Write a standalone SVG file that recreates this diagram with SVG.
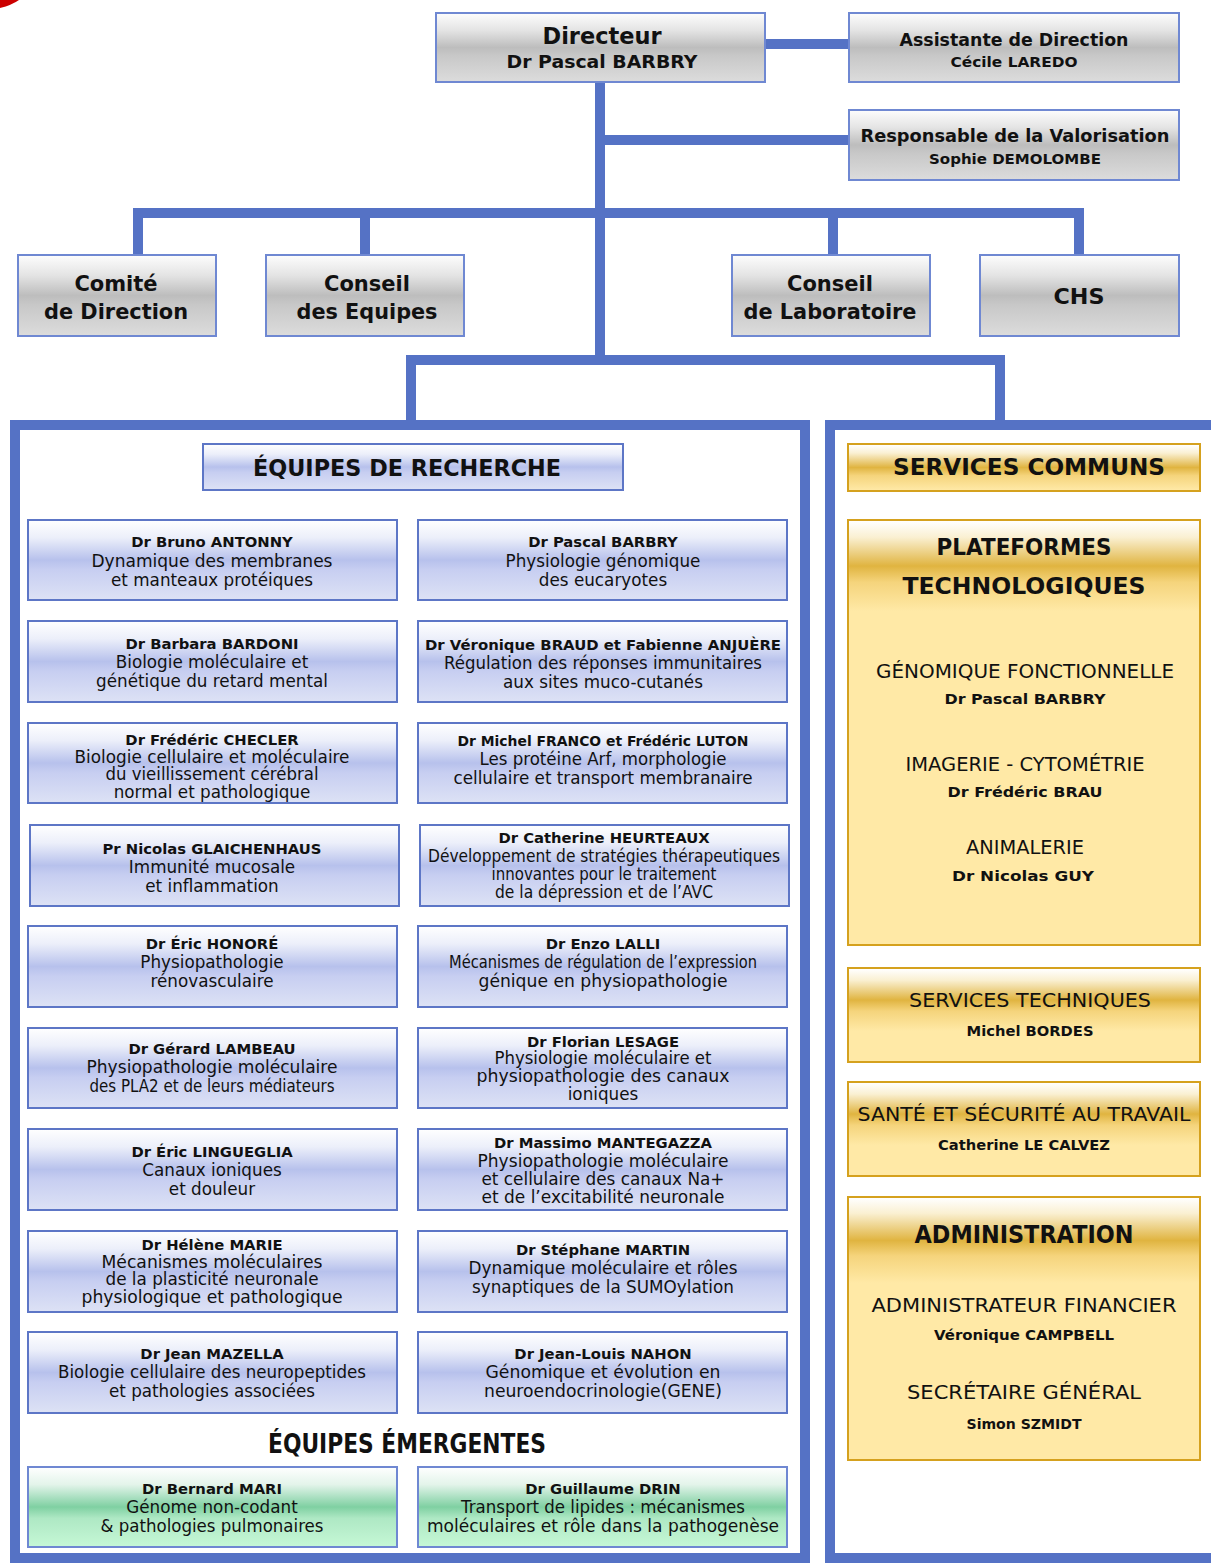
<svg xmlns="http://www.w3.org/2000/svg" width="1211" height="1564" viewBox="0 0 1211 1564">
<defs>
<linearGradient id="gGrey" x1="0" y1="0" x2="0" y2="1">
<stop offset="0" stop-color="#fdfdfd"/><stop offset="0.25" stop-color="#e4e4e4"/><stop offset="0.5" stop-color="#bdbdbd"/><stop offset="0.62" stop-color="#c8c8c8"/><stop offset="1" stop-color="#dcdcdc"/>
</linearGradient>
<linearGradient id="gBlue" x1="0" y1="0" x2="0" y2="1">
<stop offset="0" stop-color="#ffffff"/><stop offset="0.22" stop-color="#eceffa"/><stop offset="0.5" stop-color="#b7c1ec"/><stop offset="0.62" stop-color="#c7cef1"/><stop offset="1" stop-color="#dde2f5"/>
</linearGradient>
<linearGradient id="gGreen" x1="0" y1="0" x2="0" y2="1">
<stop offset="0" stop-color="#ffffff"/><stop offset="0.22" stop-color="#e3f4ea"/><stop offset="0.5" stop-color="#7fd0a2"/><stop offset="0.64" stop-color="#aee8c4"/><stop offset="1" stop-color="#c6f8d6"/>
</linearGradient>
<linearGradient id="gGold" x1="0" y1="0" x2="0" y2="1">
<stop offset="0" stop-color="#ffffff"/><stop offset="0.18" stop-color="#faf0d2"/><stop offset="0.5" stop-color="#e0b440"/><stop offset="0.68" stop-color="#f5d47c"/><stop offset="1" stop-color="#ffe9a6"/>
</linearGradient>
<style>
.con{stroke:#5572c5;stroke-width:10;fill:none;stroke-linejoin:miter}
.frame{stroke:#5572c5;stroke-width:10;fill:#ffffff}
.grey{fill:url(#gGrey);stroke:#6f88d2;stroke-width:2}
.blue{fill:url(#gBlue);stroke:#5d76c6;stroke-width:2}
.green{fill:url(#gGreen);stroke:#6f88d2;stroke-width:2}
.gold{fill:#ffe9a6;stroke:#d5a11e;stroke-width:2}
.goldh{fill:url(#gGold)}
text{font-family:"DejaVu Sans","Liberation Sans",sans-serif;fill:#111;text-anchor:middle}
.b{font-weight:bold}
.nm{font-weight:bold;font-size:14.8px}
.tx{font-size:16.8px}
.yt{font-size:19px}
.yn{font-weight:bold;font-size:14.5px}
</style>
</defs>
<rect width="1211" height="1564" fill="#ffffff"/>
<path d="M0,0 L19,0 Q12,5 0,8 Z" fill="#cc0000"/>

<g id="frames">
<rect class="frame" x="15" y="425" width="790" height="1133"/>
<rect class="frame" x="830" y="425" width="400" height="1133"/>
</g>

<g id="connectors">
<line class="con" x1="765" y1="44" x2="849" y2="44"/>
<line class="con" x1="600" y1="82" x2="600" y2="360"/>
<line class="con" x1="600" y1="140" x2="849" y2="140"/>
<polyline class="con" points="138,255 138,213 1079,213 1079,255"/>
<line class="con" x1="365" y1="213" x2="365" y2="255"/>
<line class="con" x1="833" y1="213" x2="833" y2="255"/>
<polyline class="con" points="411,421 411,360 1000,360 1000,421"/>
</g>

<g id="directeur"><rect class="grey" x="436" y="13" width="329" height="69"/>
<text class="b" x="602" y="44" font-size="23" textLength="119" lengthAdjust="spacingAndGlyphs">Directeur</text>
<text class="b" x="602" y="68" font-size="18" textLength="191" lengthAdjust="spacingAndGlyphs">Dr Pascal BARBRY</text></g>

<g id="assistante"><rect class="grey" x="849" y="13" width="330" height="69"/>
<text class="b" x="1014" y="46" font-size="17.5" textLength="229" lengthAdjust="spacingAndGlyphs">Assistante de Direction</text>
<text class="b" x="1014" y="67" font-size="14.5" textLength="127" lengthAdjust="spacingAndGlyphs">Cécile LAREDO</text></g>

<g id="valorisation"><rect class="grey" x="849" y="110" width="330" height="70"/>
<text class="b" x="1015" y="142" font-size="17.5" textLength="309" lengthAdjust="spacingAndGlyphs">Responsable de la Valorisation</text>
<text class="b" x="1015" y="164" font-size="14.5" textLength="172" lengthAdjust="spacingAndGlyphs">Sophie DEMOLOMBE</text></g>

<g id="comite"><rect class="grey" x="18" y="255" width="198" height="81"/>
<text class="b" x="116" y="291" font-size="21">Comité</text>
<text class="b" x="116" y="319" font-size="21" textLength="144" lengthAdjust="spacingAndGlyphs">de Direction</text></g>

<g id="conseil-equipes"><rect class="grey" x="266" y="255" width="198" height="81"/>
<text class="b" x="367" y="291" font-size="21">Conseil</text>
<text class="b" x="367" y="319" font-size="21" textLength="141" lengthAdjust="spacingAndGlyphs">des Equipes</text></g>

<g id="conseil-labo"><rect class="grey" x="732" y="255" width="198" height="81"/>
<text class="b" x="830" y="291" font-size="21">Conseil</text>
<text class="b" x="830" y="319" font-size="21" textLength="173" lengthAdjust="spacingAndGlyphs">de Laboratoire</text></g>

<g id="chs"><rect class="grey" x="980" y="255" width="199" height="81"/>
<text class="b" x="1079" y="304" font-size="21" textLength="51" lengthAdjust="spacingAndGlyphs">CHS</text></g>

<g id="equipes-recherche"><rect class="blue" x="203" y="444" width="420" height="46"/>
<text class="b" x="407" y="476" font-size="23" textLength="308" lengthAdjust="spacingAndGlyphs">ÉQUIPES DE RECHERCHE</text></g>

<g id="antonny"><rect class="blue" x="28" y="520" width="369" height="80"/>
<text class="nm" x="212" y="547">Dr Bruno ANTONNY</text>
<text class="tx" x="212" y="567" textLength="241" lengthAdjust="spacingAndGlyphs">Dynamique des membranes</text>
<text class="tx" x="212" y="586">et manteaux protéiques</text></g>

<g id="barbry"><rect class="blue" x="418" y="520" width="369" height="80"/>
<text class="nm" x="603" y="547">Dr Pascal BARBRY</text>
<text class="tx" x="603" y="567">Physiologie génomique</text>
<text class="tx" x="603" y="586">des eucaryotes</text></g>

<g id="bardoni"><rect class="blue" x="28" y="621" width="369" height="81"/>
<text class="nm" x="212" y="649">Dr Barbara BARDONI</text>
<text class="tx" x="212" y="668">Biologie moléculaire et</text>
<text class="tx" x="212" y="687">génétique du retard mental</text></g>

<g id="braud"><rect class="blue" x="418" y="621" width="369" height="81"/>
<text class="nm" x="603" y="650" textLength="356" lengthAdjust="spacingAndGlyphs">Dr Véronique BRAUD et Fabienne ANJUÈRE</text>
<text class="tx" x="603" y="669" textLength="318" lengthAdjust="spacingAndGlyphs">Régulation des réponses immunitaires</text>
<text class="tx" x="603" y="688">aux sites muco-cutanés</text></g>

<g id="checler"><rect class="blue" x="28" y="723" width="369" height="80"/>
<text class="nm" x="212" y="745">Dr Frédéric CHECLER</text>
<text class="tx" x="212" y="763" textLength="275" lengthAdjust="spacingAndGlyphs">Biologie cellulaire et moléculaire</text>
<text class="tx" x="212" y="780" textLength="213" lengthAdjust="spacingAndGlyphs">du vieillissement cérébral</text>
<text class="tx" x="212" y="798">normal et pathologique</text></g>

<g id="franco"><rect class="blue" x="418" y="723" width="369" height="80"/>
<text class="nm" x="603" y="746" textLength="291" lengthAdjust="spacingAndGlyphs">Dr Michel FRANCO et Frédéric LUTON</text>
<text class="tx" x="603" y="765" textLength="247" lengthAdjust="spacingAndGlyphs">Les protéine Arf, morphologie</text>
<text class="tx" x="603" y="784" textLength="299" lengthAdjust="spacingAndGlyphs">cellulaire et transport membranaire</text></g>

<g id="glaichenhaus"><rect class="blue" x="30" y="825" width="369" height="81"/>
<text class="nm" x="212" y="854">Pr Nicolas GLAICHENHAUS</text>
<text class="tx" x="212" y="873">Immunité mucosale</text>
<text class="tx" x="212" y="892">et inflammation</text></g>

<g id="heurteaux"><rect class="blue" x="420" y="825" width="369" height="81"/>
<text class="nm" x="604" y="843">Dr Catherine HEURTEAUX</text>
<text class="tx" x="604" y="862" textLength="352" lengthAdjust="spacingAndGlyphs">Développement de stratégies thérapeutiques</text>
<text class="tx" x="604" y="880" textLength="225" lengthAdjust="spacingAndGlyphs">innovantes pour le traitement</text>
<text class="tx" x="604" y="898" textLength="218" lengthAdjust="spacingAndGlyphs">de la dépression et de l’AVC</text></g>

<g id="honore"><rect class="blue" x="28" y="926" width="369" height="81"/>
<text class="nm" x="212" y="949">Dr Éric HONORÉ</text>
<text class="tx" x="212" y="968">Physiopathologie</text>
<text class="tx" x="212" y="987">rénovasculaire</text></g>

<g id="lalli"><rect class="blue" x="418" y="926" width="369" height="81"/>
<text class="nm" x="603" y="949">Dr Enzo LALLI</text>
<text class="tx" x="603" y="968" textLength="308" lengthAdjust="spacingAndGlyphs">Mécanismes de régulation de l’expression</text>
<text class="tx" x="603" y="987" textLength="249" lengthAdjust="spacingAndGlyphs">génique en physiopathologie</text></g>

<g id="lambeau"><rect class="blue" x="28" y="1028" width="369" height="80"/>
<text class="nm" x="212" y="1054">Dr Gérard LAMBEAU</text>
<text class="tx" x="212" y="1073" textLength="251" lengthAdjust="spacingAndGlyphs">Physiopathologie moléculaire</text>
<text class="tx" x="212" y="1092" textLength="245" lengthAdjust="spacingAndGlyphs">des PLA2 et de leurs médiateurs</text></g>

<g id="lesage"><rect class="blue" x="418" y="1028" width="369" height="80"/>
<text class="nm" x="603" y="1047">Dr Florian LESAGE</text>
<text class="tx" x="603" y="1064" textLength="217" lengthAdjust="spacingAndGlyphs">Physiologie moléculaire et</text>
<text class="tx" x="603" y="1082" textLength="253" lengthAdjust="spacingAndGlyphs">physiopathologie des canaux</text>
<text class="tx" x="603" y="1100">ioniques</text></g>

<g id="lingueglia"><rect class="blue" x="28" y="1129" width="369" height="81"/>
<text class="nm" x="212" y="1157">Dr Éric LINGUEGLIA</text>
<text class="tx" x="212" y="1176">Canaux ioniques</text>
<text class="tx" x="212" y="1195">et douleur</text></g>

<g id="mantegazza"><rect class="blue" x="418" y="1129" width="369" height="81"/>
<text class="nm" x="603" y="1148">Dr Massimo MANTEGAZZA</text>
<text class="tx" x="603" y="1167" textLength="251" lengthAdjust="spacingAndGlyphs">Physiopathologie moléculaire</text>
<text class="tx" x="603" y="1185" textLength="243" lengthAdjust="spacingAndGlyphs">et cellulaire des canaux Na+</text>
<text class="tx" x="603" y="1203" textLength="243" lengthAdjust="spacingAndGlyphs">et de l’excitabilité neuronale</text></g>

<g id="marie"><rect class="blue" x="28" y="1231" width="369" height="81"/>
<text class="nm" x="212" y="1250">Dr Hélène MARIE</text>
<text class="tx" x="212" y="1268" textLength="221" lengthAdjust="spacingAndGlyphs">Mécanismes moléculaires</text>
<text class="tx" x="212" y="1285" textLength="213" lengthAdjust="spacingAndGlyphs">de la plasticité neuronale</text>
<text class="tx" x="212" y="1303" textLength="261" lengthAdjust="spacingAndGlyphs">physiologique et pathologique</text></g>

<g id="martin"><rect class="blue" x="418" y="1231" width="369" height="81"/>
<text class="nm" x="603" y="1255">Dr Stéphane MARTIN</text>
<text class="tx" x="603" y="1274" textLength="269" lengthAdjust="spacingAndGlyphs">Dynamique moléculaire et rôles</text>
<text class="tx" x="603" y="1293" textLength="262" lengthAdjust="spacingAndGlyphs">synaptiques de la SUMOylation</text></g>

<g id="mazella"><rect class="blue" x="28" y="1332" width="369" height="81"/>
<text class="nm" x="212" y="1359">Dr Jean MAZELLA</text>
<text class="tx" x="212" y="1378" textLength="308" lengthAdjust="spacingAndGlyphs">Biologie cellulaire des neuropeptides</text>
<text class="tx" x="212" y="1397" textLength="206" lengthAdjust="spacingAndGlyphs">et pathologies associées</text></g>

<g id="nahon"><rect class="blue" x="418" y="1332" width="369" height="81"/>
<text class="nm" x="603" y="1359">Dr Jean-Louis NAHON</text>
<text class="tx" x="603" y="1378" textLength="235" lengthAdjust="spacingAndGlyphs">Génomique et évolution en</text>
<text class="tx" x="603" y="1397" textLength="238" lengthAdjust="spacingAndGlyphs">neuroendocrinologie(GENE)</text></g>

<g id="equipes-emergentes">
<text class="b" x="407" y="1453" font-size="26" textLength="278" lengthAdjust="spacingAndGlyphs">ÉQUIPES ÉMERGENTES</text></g>

<g id="mari"><rect class="green" x="28" y="1467" width="369" height="80"/>
<text class="nm" x="212" y="1494">Dr Bernard MARI</text>
<text class="tx" x="212" y="1513">Génome non-codant</text>
<text class="tx" x="212" y="1532" textLength="223" lengthAdjust="spacingAndGlyphs">&amp; pathologies pulmonaires</text></g>

<g id="drin"><rect class="green" x="418" y="1467" width="369" height="80"/>
<text class="nm" x="603" y="1494">Dr Guillaume DRIN</text>
<text class="tx" x="603" y="1513" textLength="284" lengthAdjust="spacingAndGlyphs">Transport de lipides : mécanismes</text>
<text class="tx" x="603" y="1532" textLength="352" lengthAdjust="spacingAndGlyphs">moléculaires et rôle dans la pathogenèse</text></g>

<g id="services-communs"><rect class="gold" x="848" y="444" width="352" height="47"/>
<rect class="goldh" x="849" y="445" width="350" height="45"/>
<text class="b" x="1029" y="475" font-size="23" textLength="272" lengthAdjust="spacingAndGlyphs">SERVICES COMMUNS</text></g>

<g id="plateformes"><rect class="gold" x="848" y="520" width="352" height="425"/>
<rect class="goldh" x="849" y="521" width="350" height="90"/>
<text class="b" x="1024" y="555" font-size="23" textLength="175" lengthAdjust="spacingAndGlyphs">PLATEFORMES</text>
<text class="b" x="1024" y="594" font-size="23" textLength="243" lengthAdjust="spacingAndGlyphs">TECHNOLOGIQUES</text>
<text class="yt" x="1025" y="678" textLength="298" lengthAdjust="spacingAndGlyphs">GÉNOMIQUE FONCTIONNELLE</text>
<text class="yn" x="1025" y="704" textLength="161" lengthAdjust="spacingAndGlyphs">Dr Pascal BARBRY</text>
<text class="yt" x="1025" y="771" textLength="239" lengthAdjust="spacingAndGlyphs">IMAGERIE - CYTOMÉTRIE</text>
<text class="yn" x="1025" y="797" textLength="155" lengthAdjust="spacingAndGlyphs">Dr Frédéric BRAU</text>
<text class="yt" x="1025" y="854" textLength="118" lengthAdjust="spacingAndGlyphs">ANIMALERIE</text>
<text class="yn" x="1023" y="881" textLength="142" lengthAdjust="spacingAndGlyphs">Dr Nicolas GUY</text></g>

<g id="services-techniques"><rect class="gold" x="848" y="968" width="352" height="94"/>
<rect class="goldh" x="849" y="969" width="350" height="62"/>
<text class="yt" x="1030" y="1007" textLength="242" lengthAdjust="spacingAndGlyphs">SERVICES TECHNIQUES</text>
<text class="yn" x="1030" y="1036" textLength="127" lengthAdjust="spacingAndGlyphs">Michel BORDES</text></g>

<g id="sante-securite"><rect class="gold" x="848" y="1082" width="352" height="94"/>
<rect class="goldh" x="849" y="1083" width="350" height="62"/>
<text class="yt" x="1024" y="1121" textLength="333" lengthAdjust="spacingAndGlyphs">SANTÉ ET SÉCURITÉ AU TRAVAIL</text>
<text class="yn" x="1024" y="1150" textLength="172" lengthAdjust="spacingAndGlyphs">Catherine LE CALVEZ</text></g>

<g id="administration"><rect class="gold" x="848" y="1197" width="352" height="263"/>
<rect class="goldh" x="849" y="1198" width="350" height="85"/>
<text class="b" x="1024" y="1243" font-size="24" textLength="219" lengthAdjust="spacingAndGlyphs">ADMINISTRATION</text>
<text class="yt" x="1024" y="1312" textLength="305" lengthAdjust="spacingAndGlyphs">ADMINISTRATEUR FINANCIER</text>
<text class="yn" x="1024" y="1340" textLength="180" lengthAdjust="spacingAndGlyphs">Véronique CAMPBELL</text>
<text class="yt" x="1024" y="1399" textLength="234" lengthAdjust="spacingAndGlyphs">SECRÉTAIRE GÉNÉRAL</text>
<text class="yn" x="1024" y="1429" textLength="115" lengthAdjust="spacingAndGlyphs">Simon SZMIDT</text></g>
</svg>
